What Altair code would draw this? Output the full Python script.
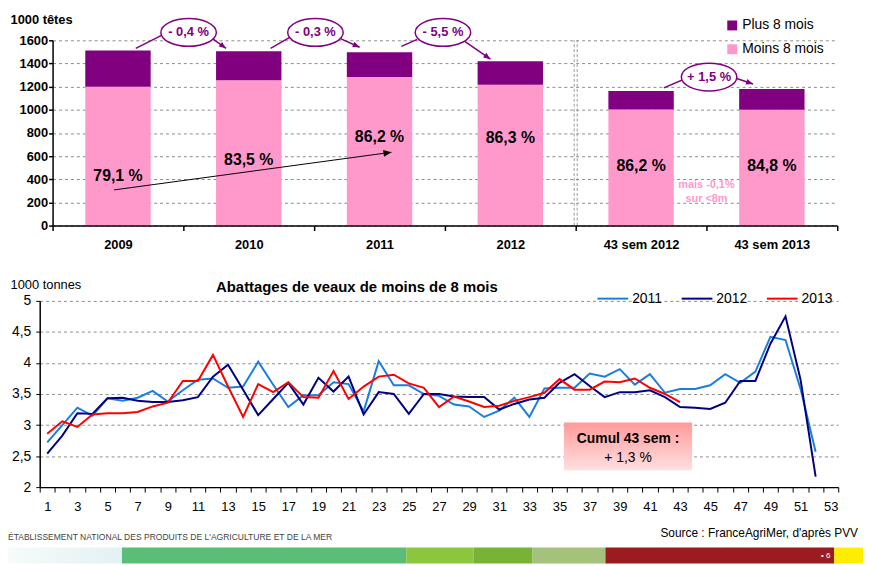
import json
import math
import altair as alt
import pandas as pd

# ---------------- data : top chart (1000 têtes) ----------------
categories = ["2009", "2010", "2011", "2012", "43 sem 2012", "43 sem 2013"]
moins_8_mois = [1198, 1255, 1283, 1216, 1002, 1001]
plus_8_mois = [315, 250, 214, 204, 161, 179]
series_top = ["Plus 8 mois", "Moins 8 mois"]
share_labels = ["79,1 %", "83,5 %", "86,2 %", "86,3 %", "86,2 %", "84,8 %"]
callout_texts = ["- 0,4 %", "- 0,3 %", "- 5,5 %", "+ 1,5 %"]
note_lines = ["mais -0,1%", "sur <8m"]
y_ticks_top = [0, 200, 400, 600, 800, 1000, 1200, 1400, 1600]

# ---------------- data : bottom chart (1000 tonnes) ----------------
weeks = list(range(1, 54))
s2011 = [2.72, 3.00, 3.28, 3.15, 3.43, 3.39, 3.44, 3.55, 3.38, 3.56,
         3.73, 3.75, 3.60, 3.62, 4.02, 3.65, 3.29, 3.48, 3.48, 3.69,
         3.66, 3.22, 4.03, 3.64, 3.64, 3.50, 3.47, 3.33, 3.30, 3.13,
         3.23, 3.44, 3.13, 3.59, 3.60, 3.60, 3.83, 3.78, 3.90, 3.65,
         3.82, 3.52, 3.58, 3.58, 3.64, 3.82, 3.68, 3.86, 4.42, 4.37,
         3.58, 2.57, None]
s2012 = [2.54, 2.83, 3.19, 3.18, 3.43, 3.44, 3.39, 3.37, 3.37, 3.40,
         3.45, 3.78, 3.97, 3.57, 3.16, 3.42, 3.68, 3.33, 3.76, 3.54,
         3.78, 3.17, 3.53, 3.50, 3.18, 3.50, 3.50, 3.46, 3.45, 3.45,
         3.25, 3.34, 3.41, 3.44, 3.68, 3.82, 3.63, 3.45, 3.53, 3.53,
         3.56, 3.45, 3.29, 3.28, 3.26, 3.36, 3.71, 3.71, 4.31, 4.75,
         3.73, 2.17, None]
s2013 = [2.86, 3.06, 2.97, 3.17, 3.19, 3.19, 3.21, 3.30, 3.36, 3.71,
         3.71, 4.13, 3.62, 3.13, 3.66, 3.53, 3.69, 3.45, 3.44, 3.87,
         3.42, 3.62, 3.78, 3.81, 3.67, 3.60, 3.29, 3.46, 3.38, 3.29,
         3.31, 3.39, 3.45, 3.52, 3.74, 3.57, 3.57, 3.70, 3.69, 3.75,
         3.60, 3.50, 3.37] + [None] * 10
series_bottom = ["2011", "2012", "2013"]
y_ticks_bottom = [2, 2.5, 3, 3.5, 4, 4.5, 5]
bottom_title = "Abattages de veaux de moins de 8 mois"
cumul_lines = ["Cumul 43 sem :", "+ 1,3 %"]
footer_left = "ÉTABLISSEMENT NATIONAL DES PRODUITS DE L'AGRICULTURE ET DE LA MER"
footer_right = "Source : FranceAgriMer, d'après PVV"

# ---------------- annotation placement (data units) ----------------
share_label_y = [428, 565, 761, 753, 513, 513]
callout_x = [1.04, 2.01, 2.985, 5.02]
callout_y = [1668, 1668, 1668, 1283]
callout_tails = [(0.636, 1531, 0.833, 1643), (1.667, 1531, 1.826, 1634),
                 (2.667, 1548, 2.788, 1608), (4.674, 1189, 4.833, 1266)]
callout_heads = [(1.220, 1617, 1.326, 1531), (2.197, 1617, 2.348, 1540),
                 (3.152, 1591, 3.348, 1437), (5.220, 1275, 5.356, 1223)]
trend_arrow = (0.47, 308, 2.591, 633)
note_x = 5.0
note_y = [351, 231]
cumul_box = (35.3, 43.8, 3.04, 2.27)
cumul_text_y = [2.77, 2.47]
footer_edges = [8, 123, 410, 478, 537, 611, 842, 871]
footer_colors = ["#eef7f8", "#5cbd79", "#8cc63f", "#78b236", "#a5c27c", "#9b1c20", "#ffec00"]

# ---------------- styles ----------------
FONT = "Liberation Sans"
PURPLE = "#800080"
PINK = "#ff99cc"
W1, H1 = 792, 187
W2, H2 = 793, 188
KX, KY = W1 / 6.0, H1 / 1600.0

ELLIPSE = "M-1,0A1,0.5,0,1,1,1,0A1,0.5,0,1,1,-1,0Z"
HEAD = "M0,0L-1,-0.42L-1,0.42Z"


def angle_of(x1, y1, x2, y2):
    dx = (x2 - x1) * KX
    dy = -(y2 - y1) * KY
    return math.degrees(math.atan2(dy, dx)) % 360


# ---------------- top chart ----------------
top_xscale = alt.Scale(domain=[0, 6], nice=False, zero=False)
top_yscale = alt.Scale(domain=[0, 1600], nice=False, zero=False)
top_label_expr = ("datum.value % 1 === 0 ? '' : " + json.dumps(categories)
                  + "[floor(datum.value)]")
top_xaxis = alt.Axis(
    values=[i * 0.5 for i in range(13)], labelExpr=top_label_expr,
    tickOpacity={"condition": {"test": "datum.value % 1 === 0", "value": 1}, "value": 0},
    grid=False, title=None, domainColor="black", domainWidth=1.5,
    tickColor="black", tickWidth=1.5, tickSize=5, labelFontSize=13,
    labelFontWeight="bold", labelPadding=8, labelOverlap=False,
    labelFlush=False, labelColor="black", zindex=1)
top_yaxis = alt.Axis(
    values=y_ticks_top, format="d", grid=True, gridDash=[3, 3],
    gridColor="#8c8c8c", gridWidth=1, domainColor="black", domainWidth=1.5,
    tickColor="black", tickWidth=1.5, tickSize=4, labelFontSize=13,
    labelFontWeight="bold", labelPadding=1, labelColor="black",
    title="1000 têtes", titleAngle=0, titleAlign="left", titleX=-43,
    titleY=-17, titleBaseline="alphabetic", titleFontSize=13,
    titleFontWeight="bold", titleColor="black")


def tx(f="x"):
    return alt.X(f + ":Q", scale=top_xscale, axis=top_xaxis)


def ty(f="y"):
    return alt.Y(f + ":Q", scale=top_yscale, axis=top_yaxis)


bar_rows = []
for i, c in enumerate(categories):
    bar_rows.append({"cat": c, "series": "Moins 8 mois", "x": i + 0.25, "x2": i + 0.75,
                     "y": 0, "y2": moins_8_mois[i]})
    bar_rows.append({"cat": c, "series": "Plus 8 mois", "x": i + 0.25, "x2": i + 0.75,
                     "y": moins_8_mois[i], "y2": moins_8_mois[i] + plus_8_mois[i]})
bars = alt.Chart(pd.DataFrame(bar_rows)).mark_rect().encode(
    x=tx(), x2="x2:Q", y=ty(), y2="y2:Q",
    color=alt.Color("series:N",
                    scale=alt.Scale(domain=series_top, range=[PURPLE, PINK]),
                    legend=alt.Legend(title=None, orient="none", legendX=679, legendY=-22,
                                      symbolType="square", symbolSize=100, symbolOpacity=1,
                                      symbolStrokeWidth=0, labelFontSize=14, labelOffset=3,
                                      rowPadding=10, padding=0, labelColor="black",
                                      labelFont=FONT)))

sep_df = pd.DataFrame({"x": [4], "y": [0], "y2": [1600]})
sep_a = alt.Chart(sep_df).mark_rule(color="#9a9a9a", strokeDash=[3, 2], strokeWidth=1,
                                    xOffset=-1.5).encode(x=tx(), y=ty(), y2="y2:Q")
sep_b = alt.Chart(sep_df).mark_rule(color="#9a9a9a", strokeDash=[3, 2], strokeWidth=1,
                                    xOffset=1.5).encode(x=tx(), y=ty(), y2="y2:Q")

shares_df = pd.DataFrame({"x": [i + 0.5 for i in range(6)], "y": share_label_y,
                          "t": share_labels})
shares = alt.Chart(shares_df).mark_text(fontSize=16, fontWeight="bold", color="black",
                                        font=FONT).encode(x=tx(), y=ty(), text="t:N")

ta = trend_arrow
trend_df = pd.DataFrame({"x": [ta[0]], "y": [ta[1]], "x2": [ta[2]], "y2": [ta[3]]})
trend_line = alt.Chart(trend_df).mark_rule(color="black", strokeWidth=1).encode(
    x=tx(), y=ty(), x2="x2:Q", y2="y2:Q")
trend_head_df = pd.DataFrame({"x": [ta[2]], "y": [ta[3]], "angle": [angle_of(*ta)]})
trend_head = alt.Chart(trend_head_df).mark_point(
    shape=HEAD, size=256, filled=True, color="black", opacity=1).encode(
    x=tx(), y=ty(), angle=alt.Angle("angle:Q", scale=None))

tails_df = pd.DataFrame(callout_tails, columns=["x", "y", "x2", "y2"])
tails = alt.Chart(tails_df).mark_rule(color=PURPLE, strokeWidth=1.5).encode(
    x=tx(), y=ty(), x2="x2:Q", y2="y2:Q")
heads_df = pd.DataFrame(callout_heads, columns=["x", "y", "x2", "y2"])
heads = alt.Chart(heads_df).mark_rule(color=PURPLE, strokeWidth=1.5).encode(
    x=tx(), y=ty(), x2="x2:Q", y2="y2:Q")
head_pts_df = pd.DataFrame({"x": [h[2] for h in callout_heads], "y": [h[3] for h in callout_heads],
                            "angle": [angle_of(*h) for h in callout_heads]})
head_pts = alt.Chart(head_pts_df).mark_point(
    shape=HEAD, size=196, filled=True, color=PURPLE, opacity=1).encode(
    x=tx(), y=ty(), angle=alt.Angle("angle:Q", scale=None))

call_df = pd.DataFrame({"x": callout_x, "y": callout_y, "t": callout_texts})
ellipses = alt.Chart(call_df).mark_point(
    shape=ELLIPSE, size=3136, filled=True, fill="white", stroke=PURPLE,
    strokeWidth=1.5, opacity=1).encode(x=tx(), y=ty())
call_txt = alt.Chart(call_df).mark_text(fontSize=13, fontWeight="bold", color=PURPLE,
                                        font=FONT).encode(x=tx(), y=ty(), text="t:N")

note_df = pd.DataFrame({"x": [note_x, note_x], "y": note_y, "t": note_lines})
note = alt.Chart(note_df).mark_text(fontSize=11, fontWeight="bold", color=PINK,
                                    font=FONT).encode(x=tx(), y=ty(), text="t:N")

top = alt.layer(sep_a, sep_b, bars, shares, trend_line, trend_head, tails, heads,
                head_pts, ellipses, call_txt, note).properties(width=W1, height=H1)

# ---------------- bottom chart ----------------
bx_scale = alt.Scale(domain=[0.5, 53.5], range=[-13, W2], nice=False, zero=False)
by_scale = alt.Scale(domain=[2, 5], nice=False, zero=False)
bx_axis = alt.Axis(
    values=[k * 0.5 for k in range(1, 108)],
    labelExpr="datum.value % 2 === 1 ? toString(datum.value) : ''",
    tickOpacity={"condition": {"test": "datum.value % 1 !== 0", "value": 1}, "value": 0},
    grid=False, title=None, domainColor="black", domainWidth=1.5, tickColor="black",
    tickWidth=1, tickSize=5, labelFontSize=13, labelPadding=9, labelOverlap=False,
    labelFlush=False, labelColor="black", zindex=1)
by_axis = alt.Axis(
    values=y_ticks_bottom, labelExpr="replace(toString(datum.value), '.', ',')",
    grid=True, gridDash=[3, 3], gridColor="#8c8c8c", gridWidth=1, offset=13,
    domainColor="black", domainWidth=1.5, tickColor="black", tickWidth=1, tickSize=4,
    labelFontSize=14, labelPadding=5, labelColor="black",
    title="1000 tonnes", titleAngle=0, titleAlign="left", titleX=-30, titleY=-12,
    titleBaseline="alphabetic", titleFontSize=13, titleFontWeight="normal",
    titleColor="black")


def bx(f="x"):
    return alt.X(f + ":Q", scale=bx_scale, axis=bx_axis)


def by(f="y"):
    return alt.Y(f + ":Q", scale=by_scale, axis=by_axis)


line_rows = []
for name, vals in zip(series_bottom, [s2011, s2012, s2013]):
    for w, v in zip(weeks, vals):
        if v is not None:
            line_rows.append({"x": w, "y": v, "series": name})
legend_b = alt.Legend(title=None, orient="none", legendX=549, legendY=-19,
                      direction="horizontal", symbolType="stroke", symbolSize=961,
                      labelFontSize=14, labelOffset=3, columnPadding=15, padding=0,
                      labelColor="black", labelFont=FONT)
lines = alt.Chart(pd.DataFrame(line_rows)).mark_line().encode(
    x=bx(), y=by(),
    color=alt.Color("series:O", scale=alt.Scale(domain=series_bottom,
                                                range=["#1a7fdc", "#000080", "#ff0000"]),
                    legend=legend_b),
    strokeWidth=alt.StrokeWidth("series:O", scale=alt.Scale(domain=series_bottom,
                                                            range=[2, 2, 4]),
                                legend=legend_b))

cb = cumul_box
box_df = pd.DataFrame({"x": [cb[0]], "x2": [cb[1]], "y": [cb[2]], "y2": [cb[3]]})
box = alt.Chart(box_df).mark_rect(
    fill=alt.Gradient(gradient="linear",
                      stops=[alt.GradientStop(color="#ff9a9a", offset=0),
                             alt.GradientStop(color="#ffe0e0", offset=1)],
                      x1=0, x2=0, y1=0, y2=1)).encode(x=bx(), x2="x2:Q", y=by(), y2="y2:Q")
cx = (cb[0] + cb[1]) / 2
box_t1 = alt.Chart(pd.DataFrame({"x": [cx], "y": [cumul_text_y[0]], "t": [cumul_lines[0]]})).mark_text(
    fontSize=14, fontWeight="bold", color="black", font=FONT).encode(x=bx(), y=by(), text="t:N")
box_t2 = alt.Chart(pd.DataFrame({"x": [cx], "y": [cumul_text_y[1]], "t": [cumul_lines[1]]})).mark_text(
    fontSize=14, color="black", font=FONT).encode(x=bx(), y=by(), text="t:N")

title_b = alt.Chart(pd.DataFrame({"t": [bottom_title]})).mark_text(
    fontSize=15, fontWeight="bold", color="black", align="left", baseline="alphabetic",
    font=FONT).encode(x=alt.value(165), y=alt.value(-9), text="t:N")
foot_l = alt.Chart(pd.DataFrame({"t": [footer_left]})).mark_text(
    fontSize=8.6, color="#444444", align="left", baseline="alphabetic", font=FONT).encode(
    x=alt.value(-45), y=alt.value(241), text="t:N")
foot_r = alt.Chart(pd.DataFrame({"t": [footer_right]})).mark_text(
    fontSize=12, color="black", align="right", baseline="alphabetic", font=FONT).encode(
    x=alt.value(813), y=alt.value(238), text="t:N")

inner = alt.layer(lines, box, box_t1, box_t2, title_b, foot_l, foot_r)

fx_scale = alt.Scale(domain=[footer_edges[0], footer_edges[-1]],
                     range=[-45, footer_edges[-1] - 53], nice=False, zero=False)
band_df = pd.DataFrame({"x": footer_edges[1:-1], "x2": footer_edges[2:],
                        "c": footer_colors[1:]})
band = alt.Chart(band_df).mark_rect().encode(
    x=alt.X("x:Q", scale=fx_scale, axis=None), x2="x2:Q",
    y=alt.value(249), y2=alt.value(265), fill=alt.Fill("c:N", scale=None))
band_light = alt.Chart(pd.DataFrame({"x": [footer_edges[0]], "x2": [footer_edges[1]]})).mark_rect(
    fill=alt.Gradient(gradient="linear",
                      stops=[alt.GradientStop(color="#f6fbfb", offset=0),
                             alt.GradientStop(color="#e3f1f3", offset=1)],
                      x1=0, x2=1, y1=0, y2=0)).encode(
    x=alt.X("x:Q", scale=fx_scale, axis=None), x2="x2:Q",
    y=alt.value(249), y2=alt.value(265))
page_no = alt.Chart(pd.DataFrame({"x": [838], "t": ["• 6"]})).mark_text(
    fontSize=8, color="white", align="right", font=FONT).encode(
    x=alt.X("x:Q", scale=fx_scale, axis=None), y=alt.value(258), text="t:N")
footer = alt.layer(band_light, band, page_no)

bottom = alt.layer(inner, footer).resolve_scale(x="independent").properties(width=W2, height=H2)

chart = alt.vconcat(top, bottom, spacing=76, bounds="flush").resolve_scale(
    color="independent", strokeWidth="independent", x="independent", y="independent"
).resolve_legend(color="independent", strokeWidth="independent").properties(
    padding={"left": 0, "top": 3, "right": 0, "bottom": 0}
).configure(font=FONT).configure_view(strokeWidth=0).configure_axis(
    labelFont=FONT, titleFont=FONT)

chart.save("out.html", embed_options={"renderer": "svg", "actions": False})
